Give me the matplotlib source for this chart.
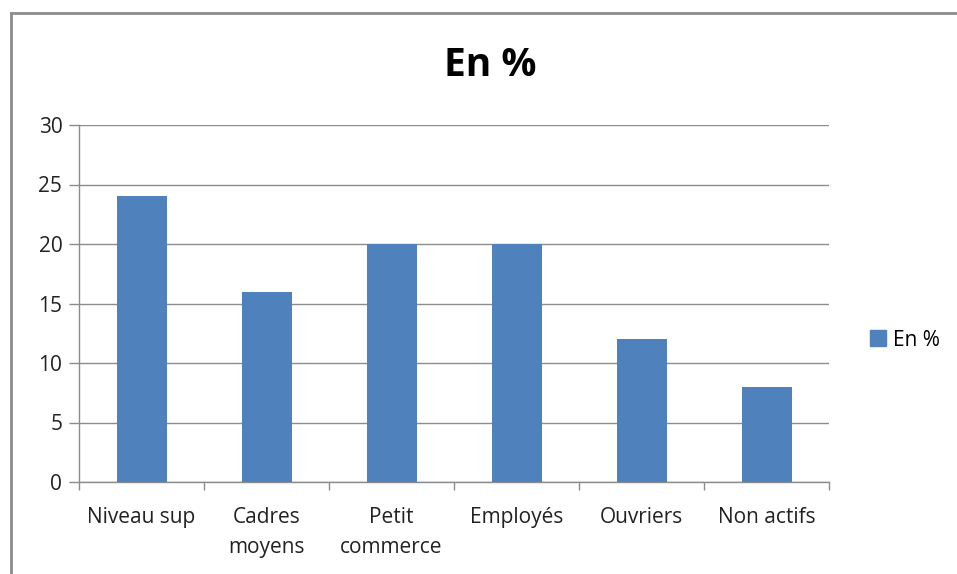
import matplotlib
matplotlib.use("Agg")
import matplotlib.pyplot as plt
from matplotlib.lines import Line2D
from matplotlib.patches import Patch
import numpy as np

categories = ["Niveau sup", "Cadres\nmoyens", "Petit\ncommerce", "Employés", "Ouvriers", "Non actifs"]
values = [24, 16, 20, 20, 12, 8]
series_name = "En %"
title = "En %"
yticks = [0, 5, 10, 15, 20, 25, 30]

plt.rcParams['font.family'] = ['Open Sans', 'DejaVu Sans']

W, H = 957, 574
fig = plt.figure(figsize=(W / 100, H / 100), dpi=100)
fig.patch.set_facecolor("white")

# chart border (partially visible)
fig.add_artist(Line2D([11 / W, 11 / W], [0, 1 - 13 / H], transform=fig.transFigure, color="#8c8c8c", lw=2))
fig.add_artist(Line2D([11 / W, 1], [1 - 13 / H, 1 - 13 / H], transform=fig.transFigure, color="#8c8c8c", lw=2))

left, right, top, bottom = 79, 829, 125, 482
ax = fig.add_axes([left / W, 1 - bottom / H, (right - left) / W, (bottom - top) / H])

x = np.arange(len(categories))
bar_color = "#4F81BD"
ax.bar(x, values, width=0.4, color=bar_color, zorder=3)

ax.set_xlim(-0.5, len(categories) - 0.5)
ax.set_ylim(0, 30)
ax.set_yticks(yticks)
ax.set_yticklabels([str(t) for t in yticks], fontsize=15, color="#222222")
ax.yaxis.grid(True, color="#8c8c8c", lw=1, zorder=0)

ax.set_xticks(np.arange(len(categories) + 1) - 0.5)
ax.set_xticklabels([])
ax.set_xticks(x, minor=True)
ax.set_xticklabels(categories, minor=True, fontsize=15, color="#222222", linespacing=1.55)
ax.tick_params(axis="x", which="minor", length=0, pad=18)
ax.tick_params(axis="x", which="major", length=6, color="#8c8c8c", width=1)
ax.tick_params(axis="y", length=7, color="#8c8c8c", width=1, pad=5)
for lbl in ax.get_xticklabels(minor=True):
    lbl.set_verticalalignment("top")

for s in ["top", "right"]:
    ax.spines[s].set_visible(False)
for s in ["left", "bottom"]:
    ax.spines[s].set_color("#8c8c8c")
    ax.spines[s].set_linewidth(1)

fig.text(490 / W, 1 - 66 / H, title, ha="center", va="center", fontsize=28, fontweight="bold", color="black")

handle = Patch(facecolor=bar_color, edgecolor=bar_color)
fig.legend([handle], [series_name], loc="center left", bbox_to_anchor=(851 / W, 1 - 340 / H),
           frameon=False, fontsize=15, handlelength=0.8, handleheight=0.8, handletextpad=0.3)

fig.savefig("out.png", dpi=100, facecolor="white")
